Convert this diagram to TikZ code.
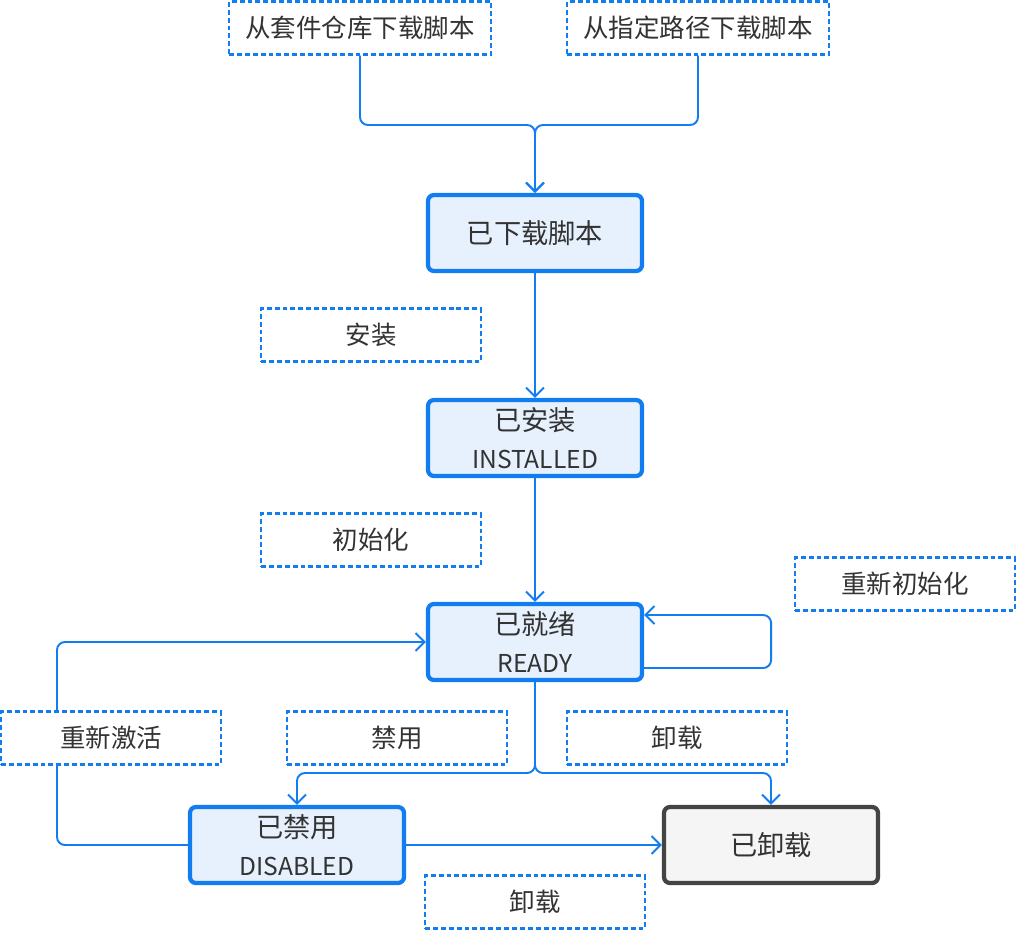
\documentclass[tikz,border=0pt]{standalone}
\usepackage{fontspec}
\setmainfont{Noto Sans CJK SC}
\usetikzlibrary{arrows.meta,calc}
\definecolor{azure}{RGB}{18,125,240}
\definecolor{pale}{RGB}{230,241,253}
\definecolor{ash}{RGB}{68,68,68}
\definecolor{smoke}{RGB}{245,245,245}
\definecolor{ink}{RGB}{51,51,51}
\tikzset{
  >={Straight Barb[length=1.8mm,width=3.6mm]},
  state/.style={draw=#1,fill=pale,line width=2.4pt,rounded corners=1.2mm,
    minimum width=42.8mm,minimum height=15.2mm,align=center,text=ink,
    font=\fontsize{15.5}{19}\selectfont},
  state/.default=azure,
  note/.style={draw=azure,fill=white,dash pattern=on 2.8pt off 1.7pt,line width=1.3pt,
    minimum width=#1,minimum height=10.6mm,text=ink,font=\fontsize{14.5}{17}\selectfont},
  note/.default=44mm,
  flow/.style={->,draw=azure,line width=1.1pt,rounded corners=1.6mm},
}
\newcommand{\engl}[1]{{\fontsize{14}{16}\selectfont #1}}

\begin{document}
\begin{tikzpicture}[x=0.2mm,y=-0.2mm]
  \useasboundingbox (0,0) rectangle (1016,930);
  % states
  \node[note=52.4mm] (src1) at (360,28) {从套件仓库下载脚本};
  \node[note=52.4mm] (src2) at (698,28) {从指定路径下载脚本};
  \node[state] (dl) at (535,233) {已下载脚本};
  \node[state] (inst) at (535,438) {已安装\\[2.5pt]\engl{INSTALLED}};
  \node[state] (ready) at (535,642) {已就绪\\[2.5pt]\engl{READY}};
  \node[state] (dis) at (297,845) {已禁用\\[2.5pt]\engl{DISABLED}};
  \node[state=ash,fill=smoke] (gone) at (771,845) {已卸载};
  \coordinate (j1) at (535,125);
  \coordinate (j2) at (535,773);
  \coordinate (back) at (57,642);
  % connectors
  \draw[flow] (src1.south) |- (j1) -- (dl.north);
  \draw[flow] (src2.south) |- (j1) -- (dl.north);
  \draw[flow] (dl.south) -- (inst.north);
  \draw[flow] (inst.south) -- (ready.north);
  \draw[flow] ($(ready.east)+(0,26)$) -- ++(127,0) |- ($(ready.east)+(0,-27)$);
  \draw[flow] (ready.south) -- (j2) -| (dis.north);
  \draw[flow] (ready.south) -- (j2) -| (gone.north);
  \draw[flow] (dis.west) -| (back) -- (ready.west);
  \draw[flow] (dis.east) -- (gone.west);
  % labels
  \node[note] (lb1) at (371,335) {安装};
  \node[note] (lb2) at (371,540) {初始化};
  \node[note] (lb3) at (905,584) {重新初始化};
  \node[note] (lb4) at (111,738) {重新激活};
  \node[note] (lb5) at (397,738) {禁用};
  \node[note] (lb6) at (677,738) {卸载};
  \node[note] (lb7) at (535,902) {卸载};
\end{tikzpicture}
\end{document}
